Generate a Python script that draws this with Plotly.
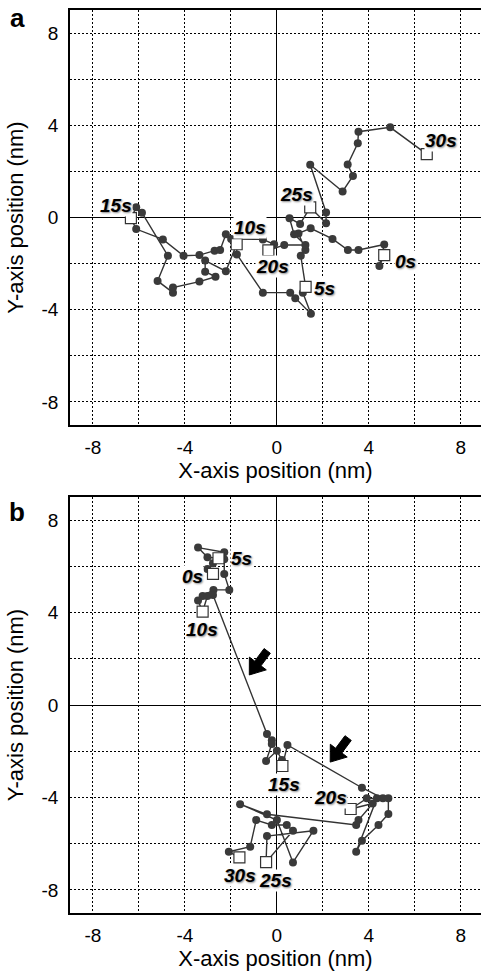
import math
import plotly.graph_objects as go

# ---------------- Panel a data (nm) ----------------
path_a_x = [4.67, 4.46, 4.67, 3.55, 3.09, 2.42, 1.47, 0.94, 1.24, 1.04,
            1.25, 1.13, 1.48, 0.80, 0.58, -0.61, -1.74,
            -1.75, -2.22, -3.12, -3.12, -2.67, -3.37, -4.52, -4.52, -5.19, -4.74, -5.87, -6.12,
            -6.35, -6.12, -4.96, -4.06, -3.37, -2.71, -2.47, -2.22, -1.99, -0.61, -0.12,
            -0.37, 0.32, 1.24, 0.75, 0.55, 1.01,
            1.45, 2.14, 2.14, 1.45, 2.86, 3.31, 3.08, 3.52, 3.55, 4.93,
            6.52]
path_a_y = [-1.63, -2.10, -1.17, -1.41, -1.41, -0.93, -0.47, -0.69, -1.41, -1.66,
            -3.01, -3.26, -4.18, -3.50, -3.26, -3.26, -1.60,
            -1.16, -2.33, -1.87, -2.35, -2.57, -2.78, -3.04, -3.26, -2.75, -1.66, 0.21, 0.44,
            -0.03, -0.50, -0.95, -1.66, -1.63, -1.44, -1.41, -0.73, -0.93, -0.95, -1.16,
            -1.43, -1.19, -1.19, -0.73, -0.03, -0.28,
            0.44, -0.25, 0.22, 2.29, 1.13, 1.80, 2.30, 3.22, 3.72, 3.91,
            2.75]
marks_a = [0, 10, 17, 29, 40, 46, 56]
labels_a = ["0s", "5s", "10s", "15s", "20s", "25s", "30s"]
label_a_x = [5.58, 2.07, -1.16, -6.99, -0.17, 0.87, 7.14]
label_a_y = [-1.89, -3.10, -0.44, 0.54, -2.13, 0.98, 3.33]

# ---------------- Panel b data (nm) ----------------
path_b_x = [-2.78, -3.02, -2.78, -2.29, -3.43, -3.02,
            -2.54, -2.29, -2.29, -2.07, -2.76, -3.23, -3.43,
            -3.23, -3.02, -2.78, -0.43, -0.22, -0.22, -0.47, 0.00, 0.22,
            0.24, 0.46, 3.70, 4.61, 4.85, 4.85, 4.42, 3.70, 3.45, 4.35, 3.91,
            3.21, 4.17, 3.55, 3.45, -0.43, -1.60, 0.00, 0.70, 1.59, -0.43,
            -0.47, 0.70, 0.43, -0.22, -0.90, -1.16, -2.09,
            -1.63]
path_b_y = [5.67, 5.89, 6.13, 6.61, 6.81, 6.39,
            6.35, 6.31, 5.67, 4.98, 4.98, 4.72, 4.52,
            4.04, 4.72, 4.76, -1.26, -1.52, -1.69, -2.42, -1.98, -2.38,
            -2.64, -1.73, -3.58, -4.04, -4.04, -4.72, -5.19, -5.87, -6.35, -4.04, -4.04,
            -4.50, -4.26, -4.98, -5.19, -4.73, -4.29, -4.98, -6.81, -5.44, -5.67,
            -6.80, -5.44, -5.19, -5.19, -4.98, -6.13, -6.35,
            -6.59]
marks_b = [0, 6, 13, 22, 33, 43, 50]
labels_b = ["0s", "5s", "10s", "15s", "20s", "25s", "30s"]
label_b_x = [-3.67, -1.52, -3.26, 0.29, 2.32, -0.07, -1.60]
label_b_y = [5.55, 6.35, 3.25, -3.46, -4.00, -7.58, -7.36]

# block arrows in panel b (nm)
arrow_tail_x = [-0.42, 3.10]
arrow_tail_y = [2.34, -1.43]
arrow_tip_x = [-1.20, 2.32]
arrow_tip_y = [1.30, -2.47]

tick_vals = [-8, -4, 0, 4, 8]
tick_text = ["-8", "-4", "0", "4", "8"]
minor_vals = [-6, -2, 2, 6]

FONT = "Liberation Sans, Arial, Helvetica, sans-serif"
LINE_C = "#333333"
DOT_C = "#3a3a3a"

W, H = 481, 973
left_px = 70
dom_x = [left_px / W, 1.0]
dom_ya = [1 - 425 / H, 1 - 10 / H]
dom_yb = [1 - 913 / H, 1 - 497 / H]

fig = go.Figure()


def add_panel(px, py, marks, xa, ya):
    dots_x = [v for i, v in enumerate(px) if i not in marks]
    dots_y = [v for i, v in enumerate(py) if i not in marks]
    sq_x = [px[i] for i in marks]
    sq_y = [py[i] for i in marks]
    fig.add_trace(go.Scatter(x=px, y=py, mode="lines", xaxis=xa, yaxis=ya,
                             line=dict(color=LINE_C, width=1.4), showlegend=False,
                             hoverinfo="skip"))
    fig.add_trace(go.Scatter(x=dots_x, y=dots_y, mode="markers", xaxis=xa, yaxis=ya,
                             marker=dict(color=DOT_C, size=8, line=dict(width=0)),
                             showlegend=False))
    fig.add_trace(go.Scatter(x=sq_x, y=sq_y, mode="markers", xaxis=xa, yaxis=ya,
                             marker=dict(symbol="square", color="white", size=11,
                                         line=dict(color=LINE_C, width=1.2)),
                             showlegend=False))


add_panel(path_a_x, path_a_y, marks_a, "x", "y")
add_panel(path_b_x, path_b_y, marks_b, "x2", "y2")

grid = dict(showgrid=True, gridcolor="black", gridwidth=1, griddash="2px,2px",
            zeroline=True, zerolinecolor="black", zerolinewidth=1.2,
            ticks="", tickfont=dict(family=FONT, size=19, color="black"),
            tickvals=tick_vals, ticktext=tick_text,
            minor=dict(tickvals=minor_vals, showgrid=True, gridcolor="black",
                       gridwidth=1, griddash="2px,2px", ticks=""),
            linecolor="black", linewidth=1.5, showline=True, fixedrange=True)

xcommon = dict(grid, range=[-9, 8.88], mirror=True, ticklabelstandoff=4,
               title=dict(text="X-axis position (nm)", font=dict(family=FONT, size=22, color="black"),
                          standoff=4))
ycommon = dict(grid, range=[-9, 9], mirror=False, ticklabelstandoff=6,
               title=dict(text="Y-axis position (nm)", font=dict(family=FONT, size=22, color="black"),
                          standoff=12))

fig.update_layout(
    width=W, height=H,
    margin=dict(l=0, r=0, t=0, b=0),
    paper_bgcolor="white", plot_bgcolor="white",
    font=dict(family=FONT, color="black"),
    xaxis=dict(xcommon, domain=dom_x, anchor="y"),
    yaxis=dict(ycommon, domain=dom_ya, anchor="x"),
    xaxis2=dict(xcommon, domain=dom_x, anchor="y2"),
    yaxis2=dict(ycommon, domain=dom_yb, anchor="x2"),
)


def arrow_path(tx, ty, hx, hy, head_len=0.62, head_half=0.46, shaft_half=0.17):
    dx, dy = hx - tx, hy - ty
    L = math.hypot(dx, dy)
    ux, uy = dx / L, dy / L
    nx, ny = -uy, ux
    bx, by = hx - ux * head_len, hy - uy * head_len
    pts = [
        (tx + nx * shaft_half, ty + ny * shaft_half),
        (bx + nx * shaft_half, by + ny * shaft_half),
        (bx + nx * head_half, by + ny * head_half),
        (hx, hy),
        (bx - nx * head_half, by - ny * head_half),
        (bx - nx * shaft_half, by - ny * shaft_half),
        (tx - nx * shaft_half, ty - ny * shaft_half),
    ]
    return "M " + " L ".join(f"{px:.4f},{py:.4f}" for px, py in pts) + " Z"


shapes = []
for tx, ty, hx, hy in zip(arrow_tail_x, arrow_tail_y, arrow_tip_x, arrow_tip_y):
    shapes.append(dict(type="path", path=arrow_path(tx, ty, hx, hy), xref="x2", yref="y2",
                       fillcolor="black", line=dict(color="black", width=1), layer="above"))
fig.update_layout(shapes=shapes)

annotations = []
lab_font = dict(family=FONT, size=19, color="black", weight="bold", style="italic",
                shadow="1px 1px 2px #888888")
for t, lx, ly in zip(labels_a, label_a_x, label_a_y):
    annotations.append(dict(text=t, x=lx, y=ly, xref="x", yref="y", showarrow=False,
                            font=lab_font, bgcolor="white", borderpad=0))
for t, lx, ly in zip(labels_b, label_b_x, label_b_y):
    annotations.append(dict(text=t, x=lx, y=ly, xref="x2", yref="y2", showarrow=False,
                            font=lab_font, bgcolor="white", borderpad=0))
annotations.append(dict(text="<b>a</b>", x=17 / W, y=1 - 18 / H, xref="paper", yref="paper",
                        showarrow=False, font=dict(family=FONT, size=26, color="black"),
                        xanchor="center", yanchor="middle"))
annotations.append(dict(text="<b>b</b>", x=17 / W, y=1 - 512 / H, xref="paper", yref="paper",
                        showarrow=False, font=dict(family=FONT, size=26, color="black"),
                        xanchor="center", yanchor="middle"))
fig.update_layout(annotations=annotations)

fig.write_html("out.html")
